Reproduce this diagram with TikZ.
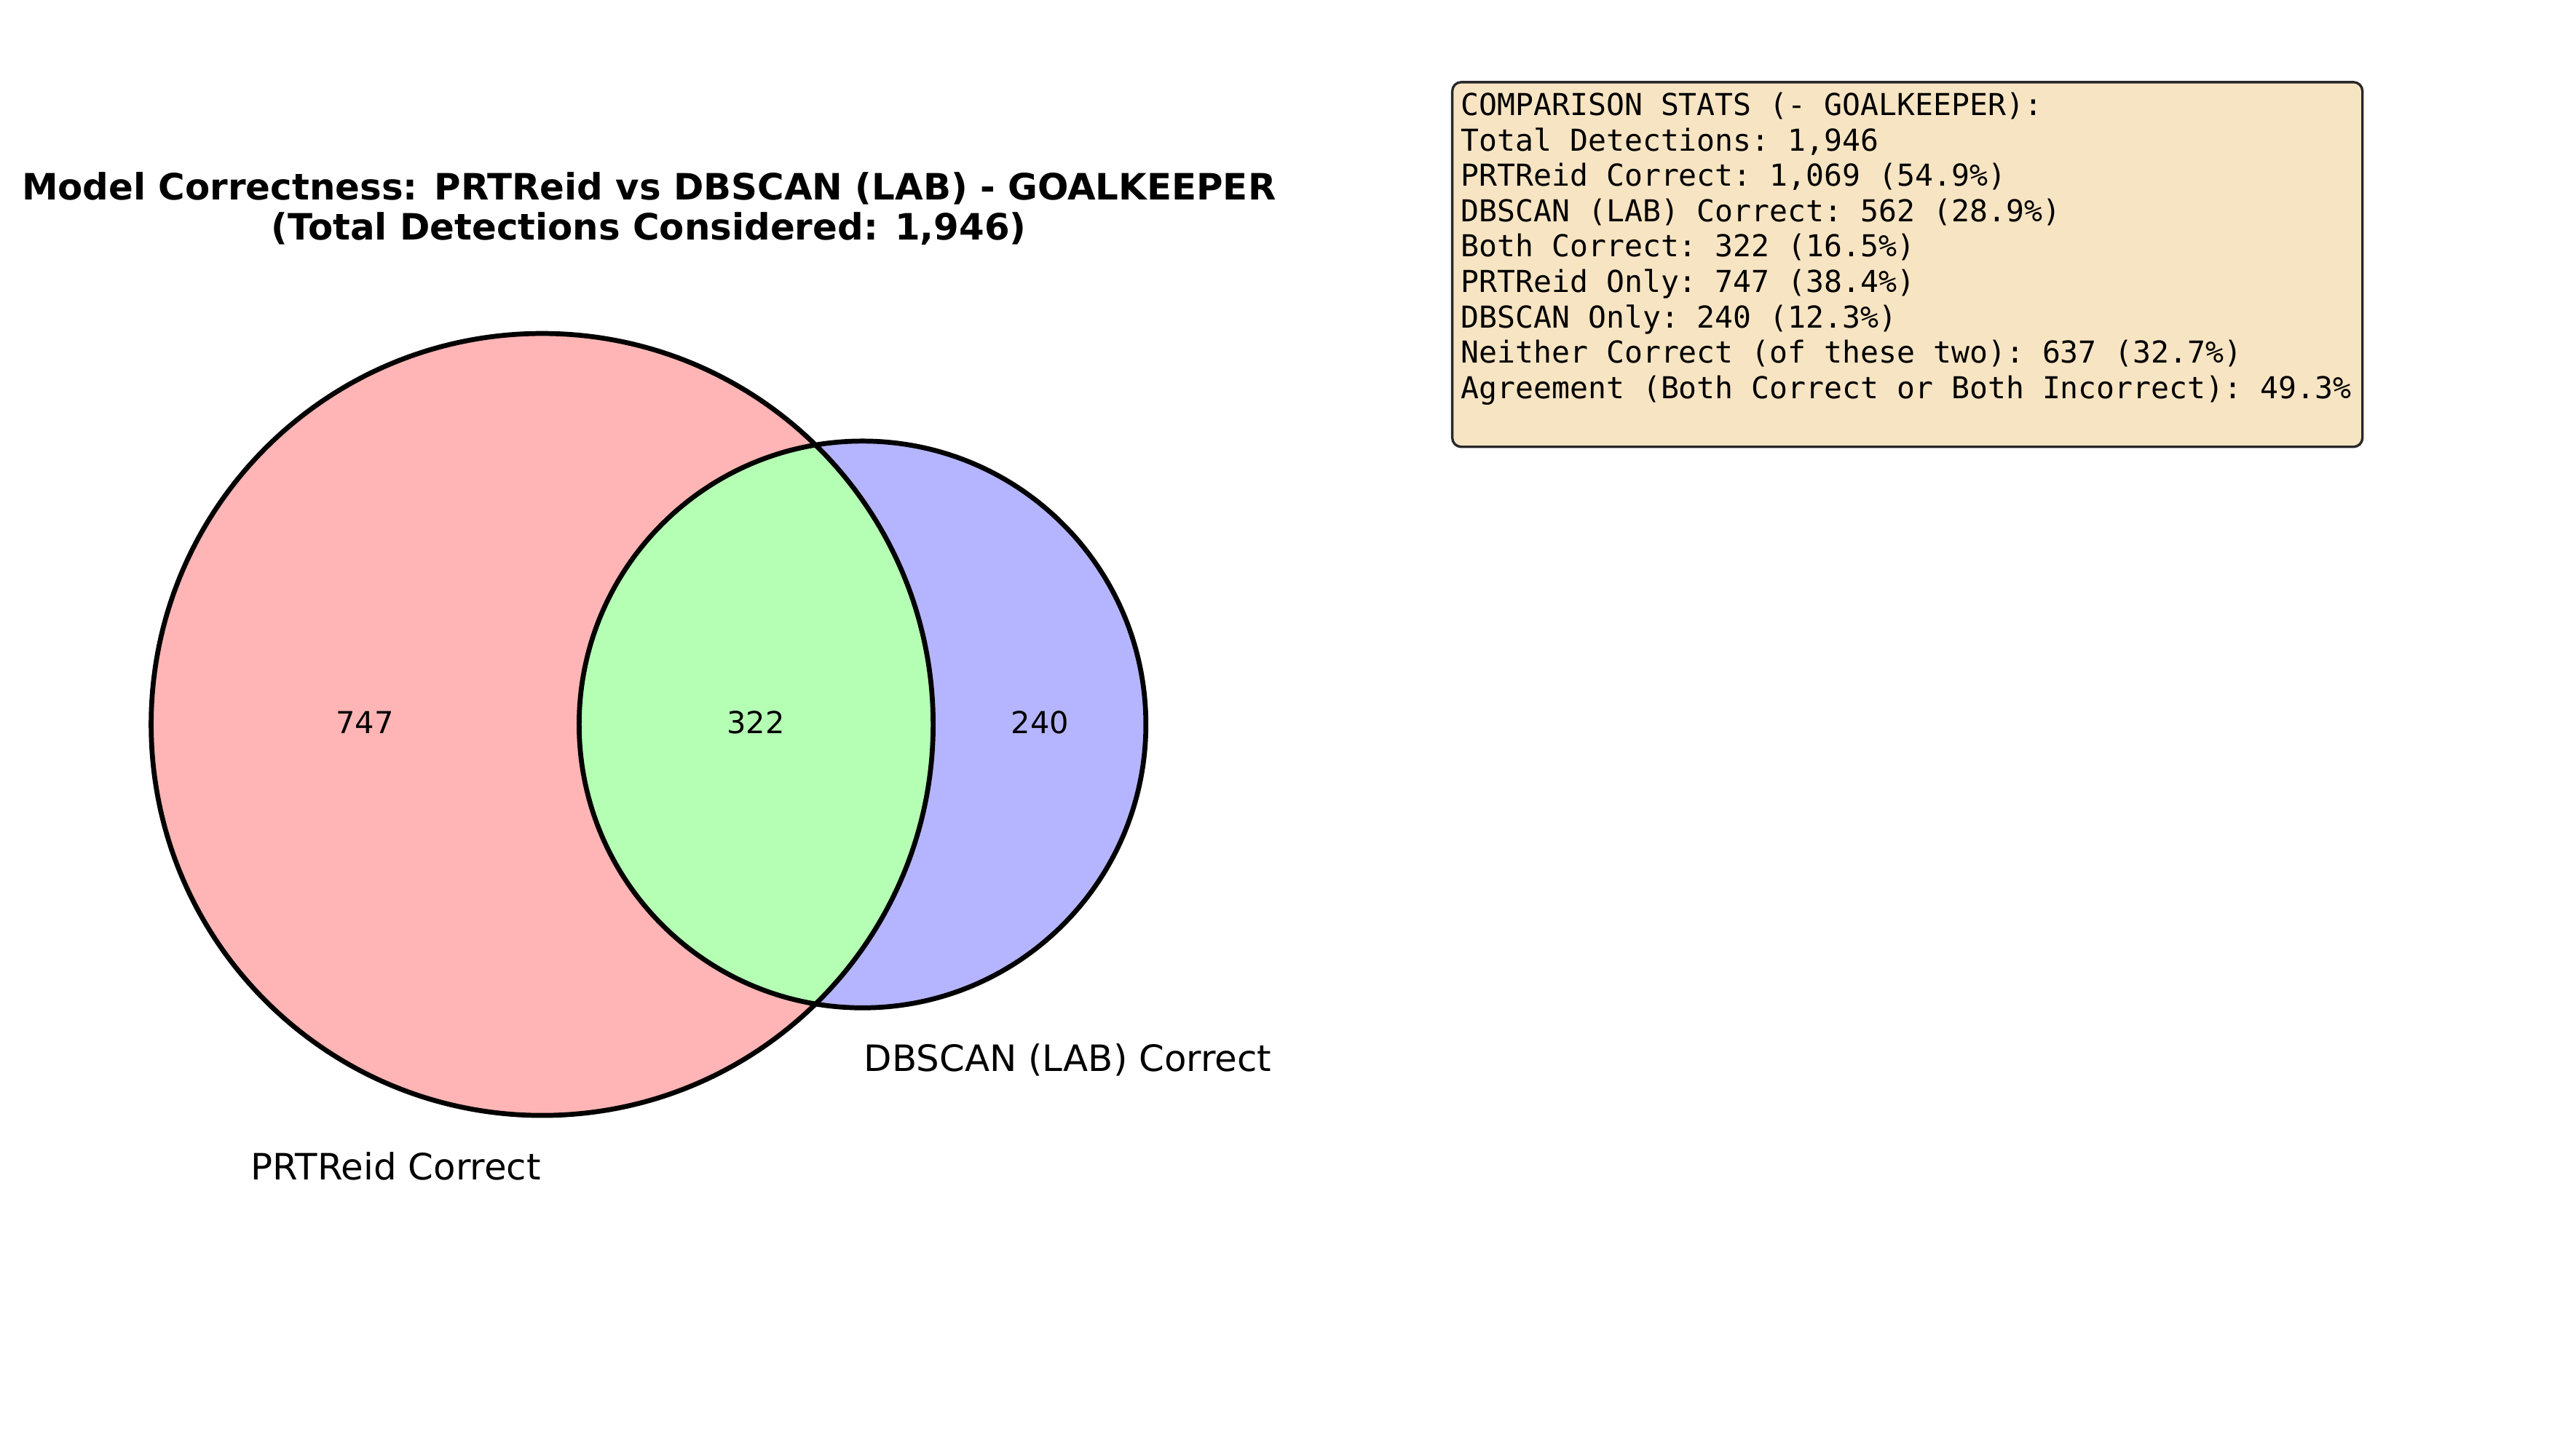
\documentclass[tikz,border=0pt]{standalone}
\usepackage{fontspec}
\setmainfont{DejaVu Sans}
\setmonofont{DejaVu Sans Mono}
\usepackage{xcolor}
\definecolor{vnpink}{RGB}{255,181,181}
\definecolor{vnblue}{RGB}{181,181,255}
\definecolor{vngreen}{RGB}{181,255,181}
\definecolor{vnwheat}{RGB}{247,228,194}
\definecolor{vnedge}{RGB}{40,40,40}
\usetikzlibrary{positioning,calc}

\begin{document}
\begin{tikzpicture}[x=0.025918cm, y=-0.025918cm,
    setcircle/.style={circle, inner sep=0pt, outer sep=0pt},
    vnline/.style={draw=black, line width=2.2pt},
    countlbl/.style={font=\fontsize{13.6}{16}\selectfont, inner sep=0pt},
    setlbl/.style={font=\fontsize{16.3}{19}\selectfont, inner sep=0pt}
  ]
    \useasboundingbox (0,0) rectangle (1568,883);

    % Title
    \node[font=\fontsize{16.3}{17.8}\selectfont\bfseries, align=center] (title) at (395, 127)
      {Model Correctness: PRTReid vs DBSCAN (LAB) - GOALKEEPER\\(Total Detections Considered: 1,946)};

    % Venn circles
    \node[setcircle, minimum size=12.337cm] (prt) at (330, 441) {};
    \node[setcircle, minimum size=8.942cm] (dbs) at (525, 441) {};
    \fill[vnpink] (prt.center) circle (238);
    \fill[vnblue] (dbs.center) circle (172.5);
    \begin{scope}
      \clip (prt.center) circle (238);
      \fill[vngreen] (dbs.center) circle (172.5);
    \end{scope}
    \draw[vnline] (prt.center) circle (238);
    \draw[vnline] (dbs.center) circle (172.5);

    % Region counts
    \node[countlbl] (only1) at (222, 440) {747};
    \node[countlbl] (both) at (460, 440) {322};
    \node[countlbl] (only2) at (633, 440) {240};

    % Set labels
    \node[setlbl] (lblprt) at (241, 710) {PRTReid Correct};
    \node[setlbl] (lbldbs) at (650, 645) {DBSCAN (LAB) Correct};

    % Stats box
    \draw[vnedge, fill=vnwheat, line width=1.1pt, rounded corners=4pt] (884, 50) rectangle (1438, 272);
    \node[anchor=north west, inner sep=0pt, align=left,
          font=\fontsize{13.55}{15.9}\selectfont\ttfamily] (stats) at (889, 56)
      {COMPARISON STATS (- GOALKEEPER):\\
       Total Detections: 1,946\\
       PRTReid Correct: 1,069 (54.9\%)\\
       DBSCAN (LAB) Correct: 562 (28.9\%)\\
       Both Correct: 322 (16.5\%)\\
       PRTReid Only: 747 (38.4\%)\\
       DBSCAN Only: 240 (12.3\%)\\
       Neither Correct (of these two): 637 (32.7\%)\\
       Agreement (Both Correct or Both Incorrect): 49.3\%};
  \end{tikzpicture}
\end{document}
